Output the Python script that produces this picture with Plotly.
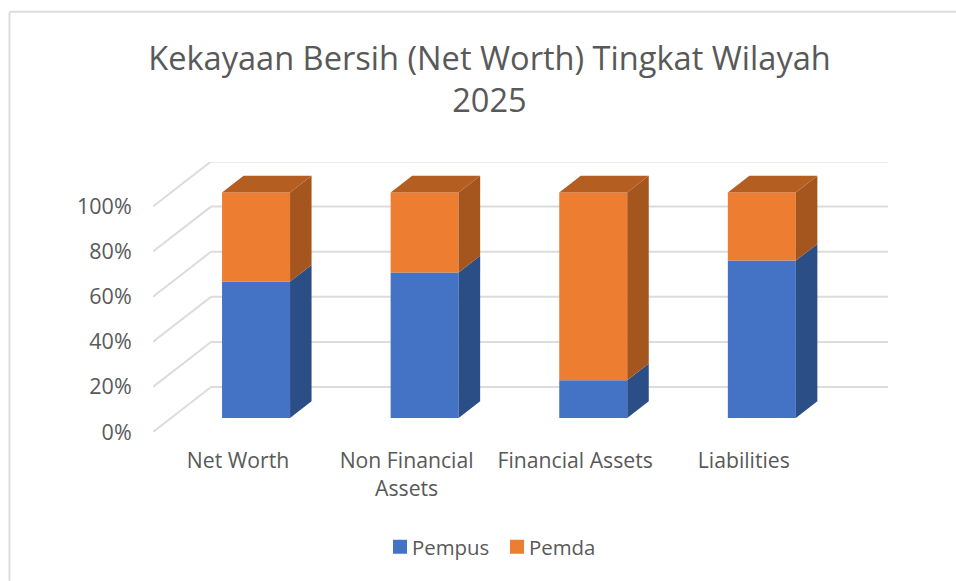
import plotly.graph_objects as go

categories = ["Net Worth", "Non Financial<br>Assets", "Financial Assets", "Liabilities"]
pempus = [60.5, 64.5, 16.8, 69.8]
pemda = [39.5, 35.5, 83.2, 30.2]
tick_values = [0, 20, 40, 60, 80, 100]
tick_labels = ["0%", "20%", "40%", "60%", "80%", "100%"]
title_text = "Kekayaan Bersih (Net Worth) Tingkat Wilayah<br>2025"

BLUE, ORANGE = "#4472C4", "#ED7D31"
BLUE_SIDE, ORANGE_SIDE, ORANGE_TOP = "#2C4E86", "#A5561F", "#B55E22"
GRID, TEXT = "#DCDCDC", "#595959"
FONT = "Open Sans"

W, H = 956, 581
L, R, T, B = 153, 888, 161.5, 432
STEP = 168.6          # px per category on the front plane
PX_V = 2.26           # px per percent
X_MIN = (L - 238) / STEP
X_MAX = X_MIN + (R - L) / STEP
Y_MAX = (B - T) / PX_V
DX = 58 / STEP        # full floor depth in x units
DY = 45 / PX_V        # full floor depth in y units
D_FRONT, D_BACK = 0.311, 0.682
BAR_W = 68 / STEP
NUDGE = 0.0


def px(i, v, d):
    return i + NUDGE + DX * d, v + DY * d


fig = go.Figure()
offset_x = [px(i, 0, D_FRONT)[0] for i in range(len(categories))]
offset_y = px(0, 0, D_FRONT)[1]
fig.add_bar(x=offset_x, y=pempus, base=[offset_y] * 4, width=BAR_W, name="Pempus",
            marker=dict(color=BLUE, line_width=0))
fig.add_bar(x=offset_x, y=pemda, base=[offset_y + p for p in pempus], width=BAR_W,
            name="Pemda", marker=dict(color=ORANGE, line_width=0))


def face(xs, ys, color):
    fig.add_scatter(x=xs, y=ys, mode="lines", fill="toself", fillcolor=color,
                    line=dict(width=0), showlegend=False, hoverinfo="skip")


for i in range(len(categories)):
    right = i + BAR_W / 2
    left = i - BAR_W / 2
    lo, mid, hi = 0, pempus[i], pempus[i] + pemda[i]
    for a, b, c in ((lo, mid, BLUE_SIDE), (mid, hi, ORANGE_SIDE)):
        p = [px(right, a, D_FRONT), px(right, a, D_BACK), px(right, b, D_BACK), px(right, b, D_FRONT)]
        face([q[0] for q in p] + [p[0][0]], [q[1] for q in p] + [p[0][1]], c)
    p = [px(left, hi, D_FRONT), px(right, hi, D_FRONT), px(right, hi, D_BACK), px(left, hi, D_BACK)]
    face([q[0] for q in p] + [p[0][0]], [q[1] for q in p] + [p[0][1]], ORANGE_TOP)

shapes = []
for v in tick_values:
    x0, y0 = X_MIN, v
    x1, y1 = X_MIN + DX, v + DY
    shapes.append(dict(type="line", xref="x", yref="y", x0=x0, y0=y0, x1=x1, y1=y1,
                       line=dict(color=GRID, width=2), layer="below"))
    shapes.append(dict(type="line", xref="x", yref="y", x0=x1, y0=y1, x1=X_MAX, y1=y1,
                       line=dict(color=GRID, width=2), layer="below"))
# chart-area frame: only the top and left edges are inside the picture
fx = lambda p: (p - L) / (R - L)
fy = lambda p: (B - p) / (B - T)
shapes.append(dict(type="line", xref="paper", yref="paper", x0=fx(9.5), x1=fx(W), y0=fy(11), y1=fy(11),
                   line=dict(color="#DDDDDD", width=2)))
shapes.append(dict(type="line", xref="paper", yref="paper", x0=fx(9.5), x1=fx(9.5), y0=fy(11), y1=fy(H),
                   line=dict(color="#DDDDDD", width=2)))

fig.update_layout(
    width=W, height=H, margin=dict(l=L, r=W - R, t=T, b=H - B, pad=0),
    paper_bgcolor="white", plot_bgcolor="white", barmode="overlay", shapes=shapes,
    font=dict(family=FONT, color=TEXT, size=21),
    title=dict(text=title_text, x=489.5 / W, xanchor="center", y=1 - 69.5 / H, yanchor="middle",
               font=dict(family=FONT, size=32.6, color=TEXT)),
    legend=dict(orientation="h", x=489 / W, xref="container", xanchor="center",
                y=1 - 547 / H, yref="container", yanchor="middle", font=dict(size=20.4, color=TEXT),
                entrywidth=72, entrywidthmode="pixels", traceorder="normal"),
    xaxis=dict(range=[X_MIN, X_MAX], tickmode="array", tickvals=list(range(len(categories))),
               ticktext=categories, showgrid=False, zeroline=False, showline=False,
               ticks="outside", ticklen=10, tickcolor="rgba(0,0,0,0)", tickfont=dict(size=21.2, color=TEXT)),
    yaxis=dict(range=[0, Y_MAX], tickmode="array", tickvals=tick_values, ticktext=tick_labels,
               showgrid=False, zeroline=False, showline=False,
               ticks="outside", ticklen=16, tickcolor="rgba(0,0,0,0)", tickfont=dict(size=21.5, color=TEXT)),
)

post = """
document.body.style.margin='0';document.body.style.overflow='hidden';
document.querySelectorAll('.legend .legendsymbols').forEach(function(e){
  e.setAttribute('transform','translate(28,0) scale(1.167) translate(-20,0)');
});
"""
fig.write_html("out.html", post_script=post, config={"displayModeBar": False})
